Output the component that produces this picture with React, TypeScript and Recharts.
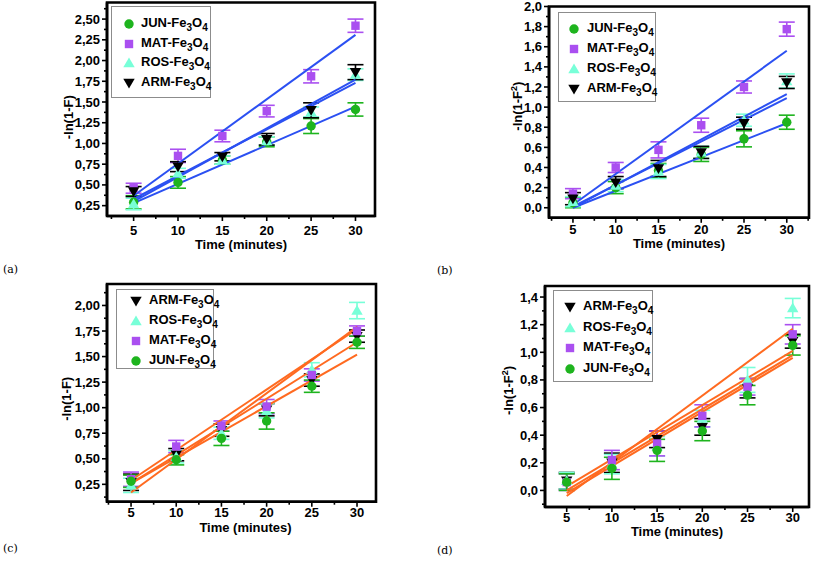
import React from 'react';
import { ComposedChart, Scatter, Line, XAxis, YAxis, ErrorBar, Legend, ReferenceArea } from 'recharts';

// ---------- shared data ----------
const TIME = [5, 10, 15, 20, 25, 30];
const FIT_TIME = [5, 30];
const X_MAJOR = [5, 10, 15, 20, 25, 30];
const X_MINOR = [2.5, 7.5, 12.5, 17.5, 22.5, 27.5, 32.5];

// ---------- panel (a): -ln(1-F) ----------
const A_JUN = [0.29, 0.53, 0.80, 1.02, 1.21, 1.41];
const A_JUN_ERR = [0.08, 0.07, 0.05, 0.06, 0.09, 0.08];
const A_MAT = [0.46, 0.85, 1.09, 1.39, 1.81, 2.42];
const A_MAT_ERR = [0.06, 0.08, 0.07, 0.07, 0.08, 0.08];
const A_ROS = [0.27, 0.64, 0.80, 1.03, 1.38, 1.83];
const A_ROS_ERR = [0.07, 0.06, 0.05, 0.05, 0.06, 0.07];
const A_ARM = [0.42, 0.72, 0.84, 1.05, 1.40, 1.86];
const A_ARM_ERR = [0.06, 0.06, 0.05, 0.07, 0.09, 0.09];
const A_JUN_FIT = [0.28, 1.445];
const A_MAT_FIT = [0.37, 2.31];
const A_ROS_FIT = [0.30, 1.77];
const A_ARM_FIT = [0.33, 1.73];
const A_Y_MAJOR = [0.25, 0.5, 0.75, 1.0, 1.25, 1.5, 1.75, 2.0, 2.25, 2.5];
const A_Y_MINOR = [0.375, 0.625, 0.875, 1.125, 1.375, 1.625, 1.875, 2.125, 2.375, 2.625];

// ---------- panel (b): -ln(1-F^2) ----------
const B_JUN = [0.05, 0.20, 0.37, 0.53, 0.685, 0.85];
const B_JUN_ERR = [0.05, 0.06, 0.07, 0.07, 0.08, 0.07];
const B_MAT = [0.14, 0.40, 0.575, 0.82, 1.20, 1.775];
const B_MAT_ERR = [0.05, 0.05, 0.08, 0.07, 0.06, 0.07];
const B_ROS = [0.06, 0.22, 0.36, 0.55, 0.87, 1.26];
const B_ROS_ERR = [0.05, 0.06, 0.07, 0.06, 0.06, 0.07];
const B_ARM = [0.09, 0.25, 0.39, 0.55, 0.84, 1.245];
const B_ARM_ERR = [0.06, 0.06, 0.08, 0.06, 0.06, 0.06];
const B_JUN_FIT = [0.0, 0.84];
const B_MAT_FIT = [0.03, 1.56];
const B_ROS_FIT = [0.0, 1.13];
const B_ARM_FIT = [0.01, 1.09];
const B_Y_MAJOR = [0.0, 0.2, 0.4, 0.6, 0.8, 1.0, 1.2, 1.4, 1.6, 1.8, 2.0];
const B_Y_MINOR = [0.1, 0.3, 0.5, 0.7, 0.9, 1.1, 1.3, 1.5, 1.7, 1.9];

// ---------- panel (c): -ln(1-F) ----------
const C_ARM = [0.27, 0.54, 0.78, 0.98, 1.27, 1.70];
const C_ARM_ERR = [0.08, 0.06, 0.06, 0.06, 0.06, 0.06];
const C_ROS = [0.24, 0.52, 0.75, 0.97, 1.37, 1.95];
const C_ROS_ERR = [0.07, 0.06, 0.06, 0.07, 0.07, 0.08];
const C_MAT = [0.30, 0.62, 0.82, 1.01, 1.32, 1.75];
const C_MAT_ERR = [0.07, 0.06, 0.05, 0.07, 0.06, 0.05];
const C_JUN = [0.28, 0.49, 0.70, 0.87, 1.21, 1.64];
const C_JUN_ERR = [0.06, 0.05, 0.07, 0.08, 0.06, 0.06];
const C_ARM_FIT = [0.26, 1.64];
const C_ROS_FIT = [0.17, 1.79];
const C_MAT_FIT = [0.29, 1.77];
const C_JUN_FIT = [0.26, 1.52];
const C_Y_MAJOR = [0.25, 0.5, 0.75, 1.0, 1.25, 1.5, 1.75, 2.0];
const C_Y_MINOR = [0.125, 0.375, 0.625, 0.875, 1.125, 1.375, 1.625, 1.875, 2.125];

// ---------- panel (d): -ln(1-F^2) ----------
const D_ARM = [0.07, 0.20, 0.37, 0.46, 0.74, 1.08];
const D_ARM_ERR = [0.06, 0.07, 0.06, 0.06, 0.07, 0.05];
const D_ROS = [0.07, 0.19, 0.32, 0.52, 0.80, 1.32];
const D_ROS_ERR = [0.06, 0.07, 0.07, 0.06, 0.09, 0.07];
const D_MAT = [0.06, 0.22, 0.34, 0.54, 0.75, 1.13];
const D_MAT_ERR = [0.06, 0.07, 0.09, 0.08, 0.06, 0.07];
const D_JUN = [0.06, 0.16, 0.29, 0.43, 0.69, 1.05];
const D_JUN_ERR = [0.06, 0.08, 0.08, 0.07, 0.07, 0.07];
const D_ARM_FIT = [0.0, 0.98];
const D_ROS_FIT = [-0.04, 1.17];
const D_MAT_FIT = [0.03, 1.01];
const D_JUN_FIT = [-0.02, 0.96];
const D_Y_MAJOR = [0.0, 0.2, 0.4, 0.6, 0.8, 1.0, 1.2, 1.4];
const D_Y_MINOR = [-0.1, 0.1, 0.3, 0.5, 0.7, 0.9, 1.1, 1.3];

// ---------- styling ----------
const FONT = '"Liberation Sans", Arial, Helvetica, sans-serif';
const GREEN = '#1eb41e';
const PURPLE = '#aa4ff0';
const AQUA = '#78ffd8';
const BLACK = '#000000';
const BLUE = '#2b50f2';
const ORANGE = '#ff6a20';

type Kind = 'circle' | 'square' | 'up' | 'down';
type Series = { name: string; kind: Kind; color: string; values: number[]; errors: number[]; fit: number[] };

const mk = (name: string, kind: Kind, color: string, values: number[], errors: number[], fit: number[]): Series => ({
  name, kind, color, values, errors, fit,
});

const rows = (s: Series) => TIME.map((t, i) => ({ x: t, y: s.values[i], e: s.errors[i] }));
const fitRows = (s: Series) => FIT_TIME.map((t, i) => ({ x: t, y: s.fit[i] }));

function Marker({ kind, cx, cy, color }: { kind: Kind; cx: number; cy: number; color: string }) {
  if (cx == null || cy == null || isNaN(cx) || isNaN(cy)) return null;
  if (kind === 'circle') return <circle cx={cx} cy={cy} r={4.7} fill={color} />;
  if (kind === 'square') return <rect x={cx - 4.2} y={cy - 4.2} width={8.4} height={8.4} fill={color} />;
  if (kind === 'up') return <path d={`M${cx},${cy - 5.5}L${cx + 5.7},${cy + 4.2}L${cx - 5.7},${cy + 4.2}Z`} fill={color} />;
  return <path d={`M${cx},${cy + 5.5}L${cx + 5.7},${cy - 4.2}L${cx - 5.7},${cy - 4.2}Z`} fill={color} />;
}

const isIn = (arr: number[], v: number) => arr.some((m) => Math.abs(m - v) < 1e-6);
const fmt = (v: number, dec: number) => v.toFixed(dec).replace('-', '').replace('.', ',');

function makeXTick(majors: number[], labelGap: number) {
  return (p: any) => {
    const { x, y, payload } = p;
    const v = payload.value;
    const major = isIn(majors, v);
    return (
      <g>
        <line x1={x} x2={x} y1={y} y2={y + (major ? 5 : 3)} stroke="#000" strokeWidth={1.6} />
        {major && (
          <text x={x} y={y + labelGap} dy="0.35em" textAnchor="middle" fontFamily={FONT} fontWeight="bold" fontSize={13} fill="#000">
            {v}
          </text>
        )}
      </g>
    );
  };
}

function makeYTick(majors: number[], dec: number) {
  return (p: any) => {
    const { x, y, payload } = p;
    const v = payload.value;
    const major = isIn(majors, v);
    return (
      <g>
        <line x1={x} x2={x - (major ? 5 : 3)} y1={y} y2={y} stroke="#000" strokeWidth={1.6} />
        {major && (
          <text x={x - 7} y={y} dy="0.35em" textAnchor="end" fontFamily={FONT} fontWeight="bold" fontSize={13} fill="#000">
            {fmt(v, dec)}
          </text>
        )}
      </g>
    );
  };
}

type Cfg = {
  tag: string;
  left: number; top: number; width: number; height: number;
  plot: { left: number; right: number; top: number; bottom: number };
  xDomain: [number, number];
  yDomain: [number, number];
  yMajor: number[]; yMinor: number[]; dec: number;
  squared: boolean;
  yLabelX: number; yLabelDy: number;
  xTitleDy: number; xTitleDx: number; tickGap: number;
  lineColor: string;
  series: Series[];
  legend: { left: number; top: number; w: number; h: number; first: number; gap: number; symX: number; textX: number };
  tagPos: { x: number; y: number };
};

function LegendBox({ cfg }: { cfg: Cfg }) {
  const L = cfg.legend;
  return (
    <div
      style={{
        width: L.w, height: L.h, border: '1px solid #8c8c8c', background: '#fff', boxSizing: 'border-box',
        position: 'relative', fontFamily: FONT, fontWeight: 'bold', fontSize: 13, color: '#000',
      }}
    >
      {cfg.series.map((s, i) => (
        <div key={s.name} style={{ position: 'absolute', left: 0, top: L.first + i * L.gap - 10, height: 20, width: L.w - 2 }}>
          <svg width={14} height={14} style={{ position: 'absolute', left: L.symX - 7, top: 3 }}>
            <Marker kind={s.kind} cx={7} cy={7} color={s.color} />
          </svg>
          <span style={{ position: 'absolute', left: L.textX, top: 1, lineHeight: '16px', whiteSpace: 'nowrap' }}>
            {s.name}-Fe<span style={{ fontSize: 10, position: 'relative', top: 4 }}>3</span>O
            <span style={{ fontSize: 10, position: 'relative', top: 4 }}>4</span>
          </span>
        </div>
      ))}
    </div>
  );
}

function Panel({ cfg }: { cfg: Cfg }) {
  const P = cfg.plot;
  const xTicks = [...X_MAJOR, ...X_MINOR].filter((v) => v > cfg.xDomain[0] && v < cfg.xDomain[1]).sort((a, b) => a - b);
  const yTicks = [...cfg.yMajor, ...cfg.yMinor].filter((v) => v > cfg.yDomain[0] - 1e-9 && v < cfg.yDomain[1] + 1e-9).sort((a, b) => a - b);
  const frame = { stroke: '#000', strokeWidth: 2.6 };
  const plotCx = (P.left + P.right) / 2;
  const plotCy = (P.top + P.bottom) / 2;

  const yTitle = () => (
    <text
      transform={`translate(${cfg.yLabelX},${plotCy + cfg.yLabelDy}) rotate(-90)`}
      textAnchor="middle" dy="0.35em" fontFamily={FONT} fontWeight="bold" fontSize={13} fill="#000"
    >
      {cfg.squared ? (
        <>
          -ln(1-F<tspan dy={-5} fontSize={9}>2</tspan><tspan dy={5}>)</tspan>
        </>
      ) : (
        '-ln(1-F)'
      )}
    </text>
  );
  const xTitle = () => (
    <text x={plotCx + cfg.xTitleDx} y={P.bottom + cfg.xTitleDy} dy="0.35em" textAnchor="middle" fontFamily={FONT} fontWeight="bold" fontSize={13} fill="#000">
      Time (minutes)
    </text>
  );

  return (
    <div style={{ position: 'absolute', left: cfg.left, top: cfg.top, width: cfg.width, height: cfg.height }}>
      <ComposedChart
        width={cfg.width}
        height={cfg.height}
        margin={{ top: P.top, right: cfg.width - P.right, bottom: 0, left: 0 }}
        style={{ overflow: 'visible' }}
      >
        <XAxis
          dataKey="x" type="number" domain={cfg.xDomain} allowDataOverflow ticks={xTicks} interval={0}
          height={cfg.height - P.bottom} tickLine={false} tickSize={0} tickMargin={0}
          tick={makeXTick(X_MAJOR, cfg.tickGap)} axisLine={frame} label={xTitle}
        />
        <YAxis
          dataKey="y" type="number" domain={cfg.yDomain} allowDataOverflow ticks={yTicks} interval={0}
          width={P.left} tickLine={false} tickSize={0} tickMargin={0}
          tick={makeYTick(cfg.yMajor, cfg.dec)} axisLine={frame} label={yTitle}
        />
        <ReferenceArea
          x1={cfg.xDomain[0]} x2={cfg.xDomain[1]} y1={cfg.yDomain[0]} y2={cfg.yDomain[1]}
          fill="none" fillOpacity={0} stroke="#000" strokeWidth={2.6} ifOverflow="visible"
        />
        {cfg.series.map((s) => (
          <Scatter
            key={'s' + s.name}
            name={s.name}
            data={rows(s)}
            dataKey="y"
            fill={s.color}
            isAnimationActive={false}
            shape={(p: any) => <Marker kind={s.kind} cx={p.cx} cy={p.cy} color={s.color} />}
          >
            <ErrorBar dataKey="e" direction="y" width={8} stroke={s.color} strokeWidth={1.6} />
          </Scatter>
        ))}
        {cfg.series.map((s) => (
          <Line
            key={'l' + s.name}
            data={fitRows(s)}
            dataKey="y"
            type="linear"
            stroke={cfg.lineColor}
            strokeWidth={2}
            dot={false}
            activeDot={false}
            legendType="none"
            isAnimationActive={false}
          />
        ))}
        <Legend
          layout="vertical"
          align="center"
          verticalAlign="middle"
          wrapperStyle={{ left: cfg.legend.left, top: cfg.legend.top, width: cfg.legend.w, height: cfg.legend.h }}
          content={() => <LegendBox cfg={cfg} />}
        />
      </ComposedChart>
      <div
        style={{
          position: 'absolute', left: cfg.tagPos.x, top: cfg.tagPos.y, fontFamily: '"DejaVu Serif", "Liberation Serif", serif',
          fontSize: 11, color: '#000', lineHeight: '14px',
        }}
      >
        {cfg.tag}
      </div>
    </div>
  );
}

const PANELS: Cfg[] = [
  {
    tag: '(a)', left: 0, top: 0, width: 410, height: 280,
    plot: { left: 107, right: 375, top: 2.5, bottom: 216 },
    xDomain: [2, 32.2], yDomain: [0.125, 2.7], yMajor: A_Y_MAJOR, yMinor: A_Y_MINOR, dec: 2, squared: false,
    yLabelX: 68, yLabelDy: 8, xTitleDy: 28, xTitleDx: 0, tickGap: 14, lineColor: BLUE,
    series: [
      mk('JUN', 'circle', GREEN, A_JUN, A_JUN_ERR, A_JUN_FIT),
      mk('MAT', 'square', PURPLE, A_MAT, A_MAT_ERR, A_MAT_FIT),
      mk('ROS', 'up', AQUA, A_ROS, A_ROS_ERR, A_ROS_FIT),
      mk('ARM', 'down', BLACK, A_ARM, A_ARM_ERR, A_ARM_FIT),
    ],
    legend: { left: 111, top: 6, w: 100, h: 92, first: 17, gap: 19.7, symX: 17, textX: 29 },
    tagPos: { x: 3, y: 263 },
  },
  {
    tag: '(b)', left: 410, top: 0, width: 405, height: 280,
    plot: { left: 139, right: 399, top: 6.5, bottom: 217.8 },
    xDomain: [2.2, 32.6], yDomain: [-0.1, 2.0], yMajor: B_Y_MAJOR, yMinor: B_Y_MINOR, dec: 1, squared: true,
    yLabelX: 107, yLabelDy: -6, xTitleDy: 26, xTitleDx: 0, tickGap: 12, lineColor: BLUE,
    series: [
      mk('JUN', 'circle', GREEN, B_JUN, B_JUN_ERR, B_JUN_FIT),
      mk('MAT', 'square', PURPLE, B_MAT, B_MAT_ERR, B_MAT_FIT),
      mk('ROS', 'up', AQUA, B_ROS, B_ROS_ERR, B_ROS_FIT),
      mk('ARM', 'down', BLACK, B_ARM, B_ARM_ERR, B_ARM_FIT),
    ],
    legend: { left: 148, top: 12, w: 98, h: 90, first: 15.5, gap: 20, symX: 15, textX: 28 },
    tagPos: { x: 27, y: 264 },
  },
  {
    tag: '(c)', left: 0, top: 280, width: 410, height: 283,
    plot: { left: 107, right: 376, top: 4, bottom: 221.7 },
    xDomain: [2.34, 32.1], yDomain: [0.08, 2.21], yMajor: C_Y_MAJOR, yMinor: C_Y_MINOR, dec: 2, squared: false,
    yLabelX: 66, yLabelDy: 6, xTitleDy: 26, xTitleDx: 4, tickGap: 11, lineColor: ORANGE,
    series: [
      mk('ARM', 'down', BLACK, C_ARM, C_ARM_ERR, C_ARM_FIT),
      mk('ROS', 'up', AQUA, C_ROS, C_ROS_ERR, C_ROS_FIT),
      mk('MAT', 'square', PURPLE, C_MAT, C_MAT_ERR, C_MAT_FIT),
      mk('JUN', 'circle', GREEN, C_JUN, C_JUN_ERR, C_JUN_FIT),
    ],
    legend: { left: 116, top: 9, w: 98, h: 80, first: 10.5, gap: 20, symX: 19, textX: 32 },
    tagPos: { x: 3, y: 262 },
  },
  {
    tag: '(d)', left: 410, top: 280, width: 405, height: 283,
    plot: { left: 135, right: 399, top: 6, bottom: 227 },
    xDomain: [2.6, 31.8], yDomain: [-0.12, 1.48], yMajor: D_Y_MAJOR, yMinor: D_Y_MINOR, dec: 1, squared: true,
    yLabelX: 98, yLabelDy: -6, xTitleDy: 24, xTitleDx: 0, tickGap: 10, lineColor: ORANGE,
    series: [
      mk('ARM', 'down', BLACK, D_ARM, D_ARM_ERR, D_ARM_FIT),
      mk('ROS', 'up', AQUA, D_ROS, D_ROS_ERR, D_ROS_FIT),
      mk('MAT', 'square', PURPLE, D_MAT, D_MAT_ERR, D_MAT_FIT),
      mk('JUN', 'circle', GREEN, D_JUN, D_JUN_ERR, D_JUN_FIT),
    ],
    legend: { left: 143, top: 10, w: 100, h: 92, first: 16, gap: 20.5, symX: 16, textX: 29 },
    tagPos: { x: 27, y: 264 },
  },
];

export default function App() {
  return (
    <div style={{ position: 'absolute', left: 0, top: 0, width: 815, height: 563, background: '#fff', overflow: 'hidden' }}>
      {PANELS.map((cfg) => (
        <Panel key={cfg.tag} cfg={cfg} />
      ))}
    </div>
  );
}
